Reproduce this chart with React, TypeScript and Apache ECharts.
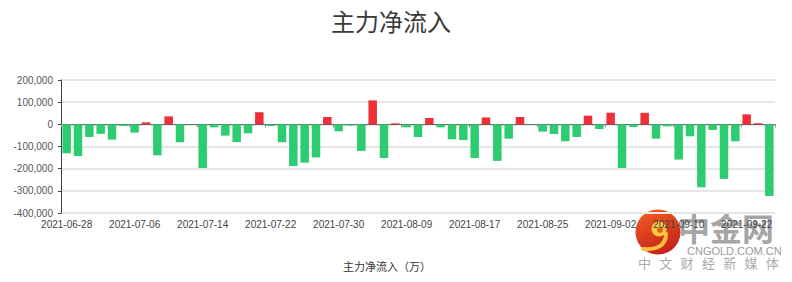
import React, { useEffect, useRef } from "react";
import * as echarts from "echarts";

const dates: string[] = [
  "2021-06-28", "2021-06-29", "2021-06-30",
  "2021-07-01", "2021-07-02", "2021-07-05", "2021-07-06", "2021-07-07", "2021-07-08", "2021-07-09",
  "2021-07-12", "2021-07-13", "2021-07-14", "2021-07-15", "2021-07-16", "2021-07-19", "2021-07-20",
  "2021-07-21", "2021-07-22", "2021-07-23", "2021-07-26", "2021-07-27", "2021-07-28", "2021-07-29",
  "2021-07-30",
  "2021-08-02", "2021-08-03", "2021-08-04", "2021-08-05", "2021-08-06", "2021-08-09", "2021-08-10",
  "2021-08-11", "2021-08-12", "2021-08-13", "2021-08-16", "2021-08-17", "2021-08-18", "2021-08-19",
  "2021-08-20", "2021-08-23", "2021-08-24", "2021-08-25", "2021-08-26", "2021-08-27", "2021-08-30",
  "2021-08-31",
  "2021-09-01", "2021-09-02", "2021-09-03", "2021-09-06", "2021-09-07", "2021-09-08", "2021-09-09",
  "2021-09-10", "2021-09-13", "2021-09-14", "2021-09-15", "2021-09-16", "2021-09-17", "2021-09-22",
  "2021-09-23", "2021-09-24",
];

const netInflow: number[] = [
  -130000, -143000, -57000, -43000, -69000, -7500, -37500, 9000, -140000, 36000,
  -81000, -1500, -197000, -13500, -51000, -80000, -40500, 54000, -7500, -81000,
  -188000, -173000, -149000, 33000, -31500, -6000, -120000, 108000, -152000, 4500,
  -13500, -57000, 28500, -13500, -67500, -70500, -152000, 31000, -165000, -64500,
  33000, -1000, -33000, -43500, -76500, -57000, 39000, -21000, 52500, -197000,
  -12000, 52000, -64500, -9000, -159000, -54000, -284000, -25500, -246000, -76500,
  45000, 5000, -323000,
];

const titleText = "主力净流入";
const seriesName = "主力净流入（万）";
const yMin = -400000;
const yMax = 200000;
const yInterval = 100000;

const UP = "#ee2f37";
const DOWN = "#2ecc71";

export default function App() {
  const ref = useRef<HTMLDivElement>(null);
  useEffect(() => {
    document.body.style.margin = "0";
    if (!ref.current) return;
    const chart = echarts.init(ref.current, undefined, { renderer: "svg" });
    const font = "'Liberation Sans', Arial, sans-serif";
    const cjk = "'Noto Sans CJK SC', sans-serif";
    const sub = "中文财经新媒体".split("");
    chart.setOption({
      animation: false,
      backgroundColor: "#ffffff",
      title: {
        text: titleText,
        left: 326,
        top: 3,
        textStyle: { fontSize: 24, fontWeight: "normal", color: "#3a3a3a", fontFamily: cjk },
      },
      grid: { left: 61, right: 17, top: 80, bottom: 69, containLabel: false },
      xAxis: [
        {
          type: "category",
          data: dates,
          position: "bottom",
          axisLine: { onZero: true, lineStyle: { color: "#666", width: 1 } },
          axisTick: { show: true, interval: 5, length: 3, lineStyle: { color: "#888" } },
          axisLabel: { show: false },
        },
        {
          type: "category",
          data: dates,
          position: "bottom",
          axisLine: { show: false, onZero: false },
          axisTick: { show: false },
          axisLabel: { show: true, interval: 5, margin: 6, fontSize: 10, color: "#444", fontFamily: font },
        },
      ],
      yAxis: {
        type: "value",
        min: yMin,
        max: yMax,
        interval: yInterval,
        axisLine: { show: true, lineStyle: { color: "#444", width: 1 } },
        axisTick: { show: true, length: 3, lineStyle: { color: "#444" } },
        axisLabel: {
          fontSize: 10,
          color: "#555",
          fontFamily: font,
          formatter: (v: number) => v.toLocaleString("en-US"),
        },
        splitLine: { show: true, lineStyle: { color: "#e6e6e6", width: 2 } },
      },
      series: [
        {
          name: seriesName,
          type: "bar",
          xAxisIndex: 0,
          barCategoryGap: "25%",
          data: netInflow.map((v) => ({ value: v, itemStyle: { color: v >= 0 ? UP : DOWN } })),
        },
      ],
      graphic: [
        {
          type: "text",
          left: 343,
          top: 260,
          style: { text: seriesName, fontSize: 11, fill: "#333", fontFamily: cjk },
        },
        {
          type: "group",
          z: 100,
          children: [
            {
              type: "circle",
              shape: { cx: 658, cy: 232, r: 22.5 },
              style: {
                fill: new echarts.graphic.LinearGradient(0.3, 0, 0.7, 1, [
                  { offset: 0, color: "#ef5a1f" },
                  { offset: 1, color: "#c41f1b" },
                ]),
              },
            },
            {
              type: "bezierCurve",
              shape: { x1: 666, y1: 234, cpx1: 666, cpy1: 246, x2: 643, y2: 249, cpx2: 656, cpy2: 250 },
              style: { stroke: "#f7c13c", lineWidth: 4, fill: "none", lineCap: "round" },
            },
            { type: "circle", shape: { cx: 659, cy: 229, r: 7.5 }, style: { fill: "#f9c940" } },
            { type: "circle", shape: { cx: 660, cy: 230, r: 3 }, style: { fill: "#e25f1e" } },
            {
              type: "text",
              x: 678,
              y: 211,
              style: {
                text: "中金网",
                fontSize: 32,
                fontWeight: "bold",
                fill: "rgba(140,140,140,0.8)",
                fontFamily: cjk,
              },
            },
            {
              type: "text",
              x: 687,
              y: 245,
              style: { text: "CNGOLD.COM.CN", fontSize: 11, fill: "#999", fontFamily: font },
            },
            ...sub.map((ch, i) => ({
              type: "text",
              x: 638 + i * 21.3,
              y: 256,
              style: { text: ch, fontSize: 13, fill: "#aaa", fontFamily: cjk },
            })),
          ],
        },
      ],
    });
    return () => chart.dispose();
  }, []);
  return <div ref={ref} style={{ width: 792, height: 282 }} />;
}
